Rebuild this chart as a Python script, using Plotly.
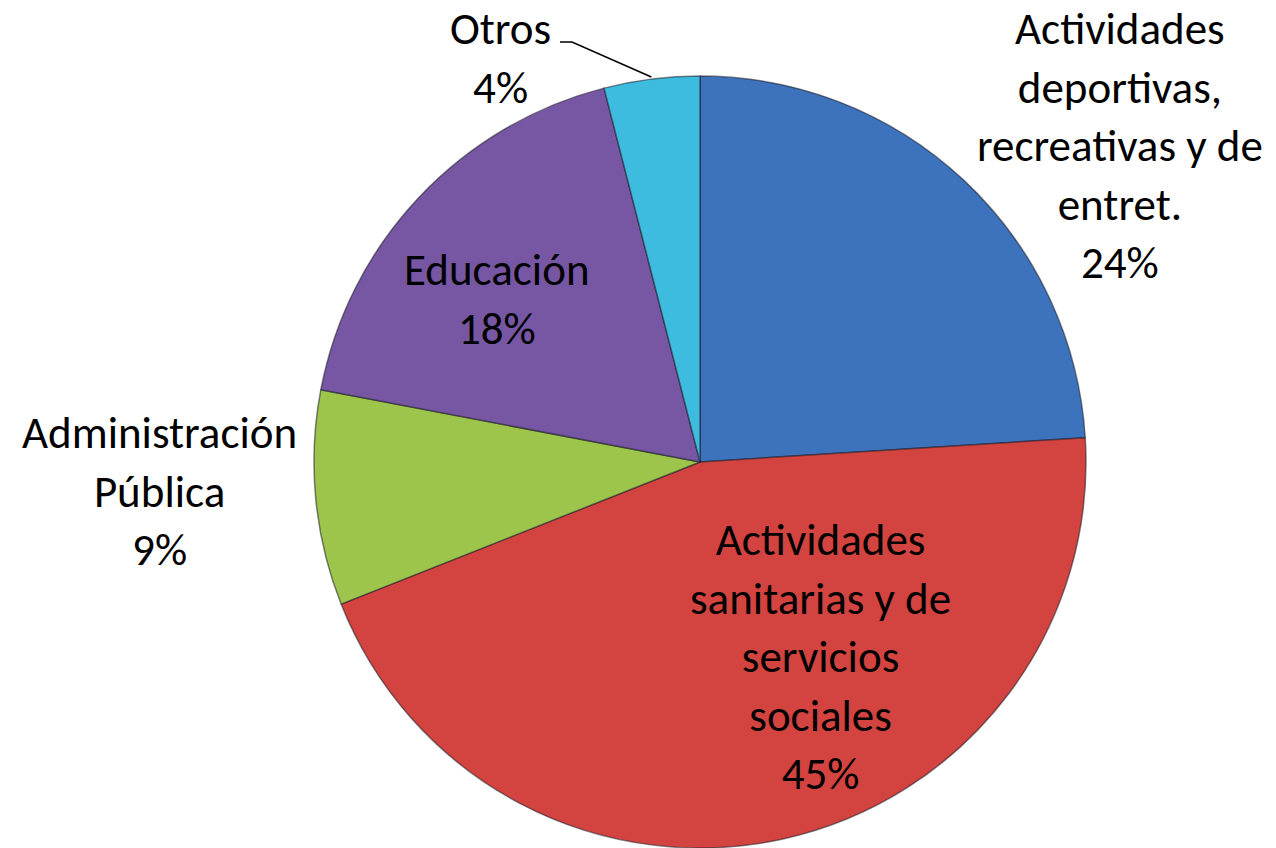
import math
import plotly.graph_objects as go

# sector shares (%), clockwise from 12 o'clock
categories = [
    "Actividades<br>deportivas,<br>recreativas y de<br>entret.",
    "Actividades<br>sanitarias y de<br>servicios<br>sociales",
    "Administración<br>Pública",
    "Educación",
    "Otros",
]
shares = [24, 45, 9, 18, 4]
colors = ["#3D73BD", "#D3433F", "#9DC44B", "#7757A3", "#3DBCDF"]

# where Excel put each data label (block centre, px)
label_pos = [(1120, 145), (820, 656), (160, 491), (497, 299), (500, 58)]

W, H = 1276, 848
CX, CY, R = 700, 462, 388
FONT = "Calibri, Carlito, Lato, sans-serif"


def px(x, y):
    return x / W, 1 - y / H


fig = go.Figure(go.Pie(
    labels=[c.replace("<br>", " ") for c in categories],
    values=shares,
    sort=False,
    direction="clockwise",
    rotation=0,
    textinfo="none",
    hoverinfo="label+percent",
    marker=dict(colors=colors, line=dict(color="rgba(30,30,40,0.55)", width=1.5)),
    domain=dict(x=[(CX - R) / W, (CX + R) / W], y=[0, 2 * (H - CY) / H]),
    showlegend=False,
))

for cat, v, (lx, ly) in zip(categories, shares, label_pos):
    ax, ay = px(lx, ly)
    fig.add_annotation(
        x=ax, y=ay, xref="paper", yref="paper",
        text=f"{cat}<br>{v}%", showarrow=False,
        font=dict(family=FONT, size=45, color="#000000"),
        align="center", xanchor="center", yanchor="middle",
    )

# leader line for "Otros": from its label to the middle of its slice edge
mid = (sum(shares[:-1]) + shares[-1] / 2) / sum(shares) * 2 * math.pi
ex, ey = CX + R * math.sin(mid), CY - R * math.cos(mid)
x0, y0 = px(560, 42)
x1, y1 = px(572, 42)
x2, y2 = px(ex, ey)
fig.add_shape(type="path", xref="paper", yref="paper",
              path=f"M {x0} {y0} L {x1} {y1} L {x2} {y2}",
              line=dict(color="#000000", width=1.5))

fig.update_layout(
    width=W, height=H,
    margin=dict(l=0, r=0, t=0, b=0),
    paper_bgcolor="white", plot_bgcolor="white",
    font=dict(family=FONT),
)
# drop the default 8px page margin so the chart sits flush in the window
fig.write_html("out.html", config={"displayModeBar": False},
               post_script="document.body.style.margin='0';")
